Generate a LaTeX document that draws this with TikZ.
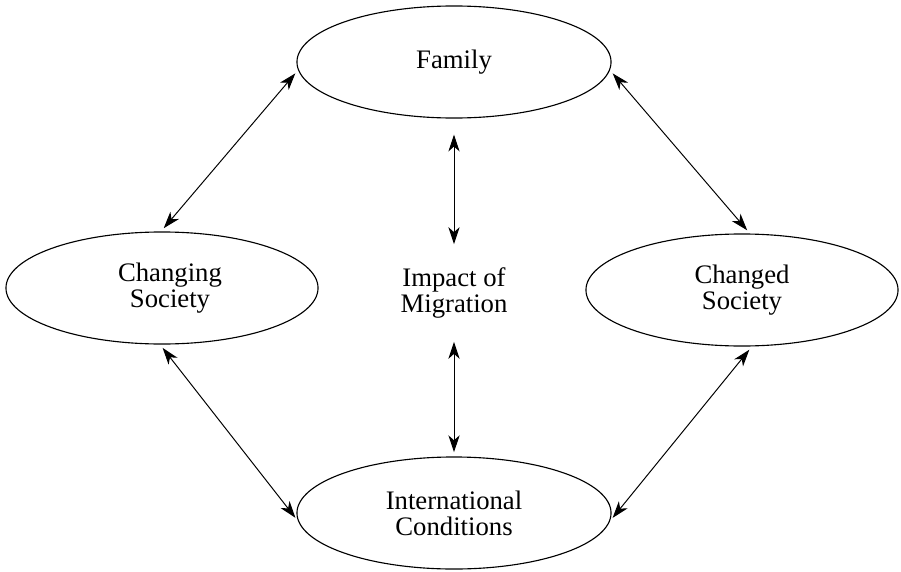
\documentclass[tikz,border=0pt]{standalone}
\usepackage{fontspec}
\setmainfont{Liberation Serif}
\usetikzlibrary{shapes.geometric,arrows.meta}

\tikzset{
	topic/.style={ellipse,draw,line width=0.8pt,inner sep=0pt,
		minimum width=7.85cm,minimum height=2.8cm,align=center,
		font=\fontsize{19}{18.4}\selectfont},
	link/.style={{Stealth[length=12pt,width=8pt,inset=3.5pt]}-{Stealth[length=12pt,width=8pt,inset=3.5pt]},
		line width=0.7pt,shorten <=3pt,shorten >=3pt}
}

\begin{document}
\begin{tikzpicture}[x=0.025cm,y=-0.025cm]
\useasboundingbox (0,0) rectangle (901,572);

% the four ellipses
\node[topic] (fam) at (454,62) {Family};
\node[topic,minimum width=7.8cm] (chg) at (162,288) {\hspace*{0.4cm}Changing\\\hspace*{0.4cm}Society};
\node[topic,minimum width=7.8cm] (chd) at (742,290) {Changed\\Society};
\node[topic] (intl) at (454,513) {International\\Conditions};

% centre text
\node[align=center,inner xsep=0pt,inner ysep=0.48cm,
	font=\fontsize{19}{18.4}\selectfont] (imp) at (454,293) {Impact of\\Migration};

% arrows
\draw[link] (fam.183) -- (chg.91);
\draw[link] (fam.-3) -- (chd.82);
\draw[link,shorten <=0.4cm] (fam.south) -- (imp.north);
\draw[link] (imp.south) -- (intl.north);
\draw[link] (chg.-92) -- (intl.183);
\draw[link] (chd.-80) -- (intl.-3);

\end{tikzpicture}
\end{document}
